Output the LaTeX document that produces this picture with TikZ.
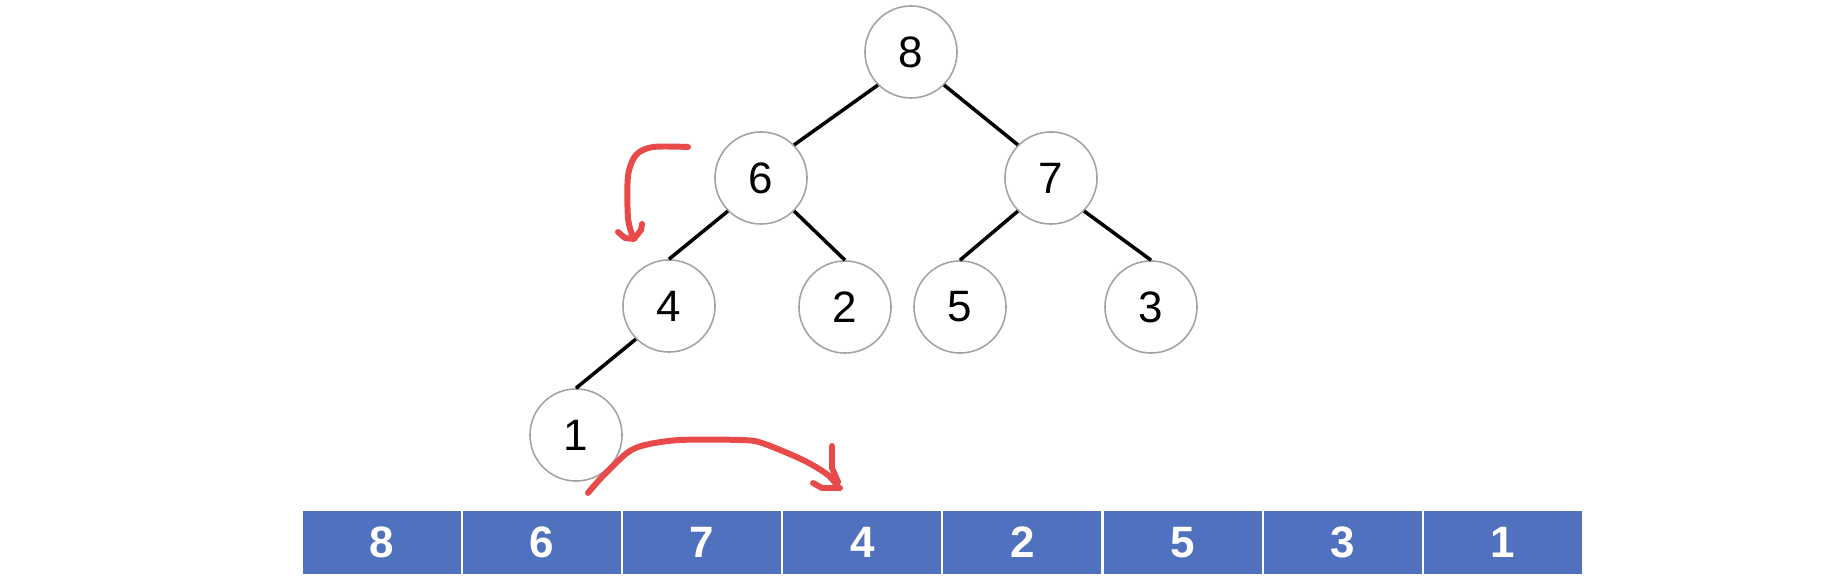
\documentclass[tikz,border=0pt]{standalone}
\usepackage{fontspec}
\setmainfont{Liberation Sans}
\definecolor{heapblue}{RGB}{80,114,190}
\definecolor{markred}{RGB}{232,74,74}
\begin{document}
\begin{tikzpicture}[x=0.01cm,y=-0.01cm,
    heapnode/.style={circle,draw=black!36,line width=0.45pt,minimum size=0.92cm,inner sep=0pt,
        font=\fontsize{12.5}{14}\selectfont},
    cell/.style={rectangle,fill=heapblue,draw=white,line width=0.6pt,minimum width=1.6cm,
        minimum height=0.66cm,inner sep=0pt,text=white,font=\bfseries\fontsize{12.5}{14}\selectfont},
    link/.style={line width=1pt},
    pen/.style={markred,line width=1.7pt,line cap=round,line join=round}]
    \useasboundingbox (0,0) rectangle (1836,586);

    % the heap as a tree
    \node[heapnode] (n8) at (911,52) {8};
    \node[heapnode] (n6) at (761,178) {6};
    \node[heapnode] (n7) at (1051,178) {7};
    \node[heapnode] (n4) at (669,306) {4};
    \node[heapnode] (n2) at (845,307) {2};
    \node[heapnode] (n5) at (960,307) {5};
    \node[heapnode] (n3) at (1151,307) {3};
    \node[heapnode] (n1) at (576,435) {1};

    \draw[link] (n8.225) -- (n6.45);
    \draw[link] (n8.315) -- (n7.135);
    \draw[link] (n6.225) -- (n4.north);
    \draw[link] (n6.315) -- (n2.north);
    \draw[link] (n7.225) -- (n5.north);
    \draw[link] (n7.315) -- (n3.north);
    \draw[link] (n4.225) -- (n1.north);

    % the heap as an array
    \foreach \v [count=\i] in {8,6,7,4,2,5,3,1}
        \node[cell] (a\i) at ({382+(\i-1)*160.1},542.5) {\v};

    % hand drawn marks
    \draw[pen] plot[smooth,tension=0.5] coordinates {(688,147) (653,147) (636,155) (628,176) (628,218) (633,237)};
    \draw[pen] (618,232) -- (625,238) -- (634,239) -- (641,230) -- (642,224);
    \draw[pen] plot[smooth,tension=0.5] coordinates {(588,493) (602,477) (627,453) (645,445) (680,440)
        (740,440) (762,443) (803,460) (828,475) (838,487)};
    \draw[pen] (832,446) -- (832,468) -- (838,482);
    \draw[pen] (813,483) -- (822,488) -- (840,488);
\end{tikzpicture}
\end{document}
